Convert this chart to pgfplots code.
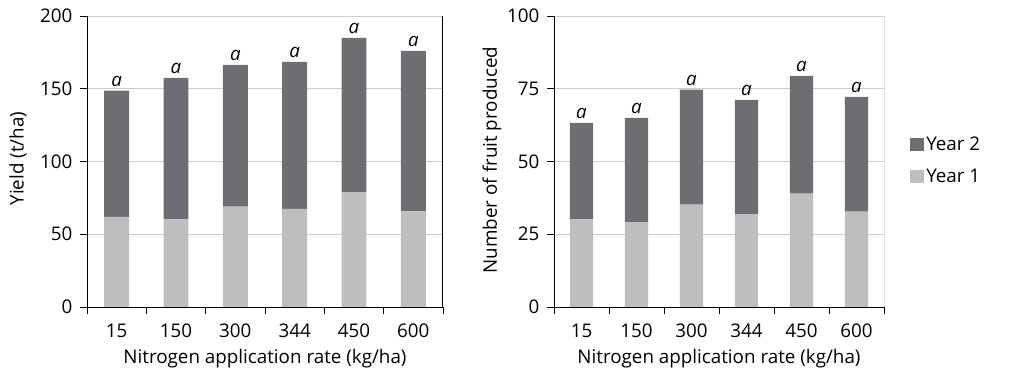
\documentclass[border=0pt]{standalone}
\usepackage{fontspec}
\setmainfont{Open Sans}
\usepackage{pgfplots}
\pgfplotsset{compat=1.18}
\definecolor{dark}{HTML}{6D6E71}
\definecolor{light}{HTML}{BCBEC0}
\definecolor{gridgray}{HTML}{CCCCCC}
\newcommand{\fs}{\fontsize{18.8bp}{22bp}\selectfont}
\pgfplotsset{
  mybar/.style={
    scale only axis,
    height=291bp,
    ybar stacked,
    ymin=0,
    xmin=-0.5, xmax=5.5,
    xtick={0,...,5},
    xticklabels={15,150,300,344,450,600},
    minor xtick={-0.5,0.5,...,5.5},
    tick align=outside,
    major tick length=7bp,
    minor tick length=7bp,
    major x tick style={draw=none},
    minor x tick style={black, line width=0.8bp},
    y tick style={black, line width=0.8bp},
    ymajorgrids,
    grid style={color=gridgray, line width=0.9bp},
    axis x line*=bottom,
    axis y line*=left,
    axis line style={line width=0.9bp},
    /pgf/number format/assume math mode=true,
    xlabel={Nitrogen application rate (kg/ha)},
    every axis plot/.append style={draw=none},
    bar width=0.42,
    yticklabel style={anchor=east, xshift=-4bp},
    xticklabel style={anchor=center, yshift=-17bp},
    xlabel style={at={(axis description cs:0.5,0)}, anchor=center, yshift=-52bp},
  },
  lab/.style={
    scale only axis, height=291bp, hide axis, ymin=0, xmin=-0.5, xmax=5.5,
    nodes near coords={a},
    every node near coord/.append style={font=\fs\itshape, anchor=south, inner sep=4bp, text=black},
  }
}
\begin{document}
\begin{tikzpicture}[font=\fs]
\useasboundingbox (0bp,0bp) rectangle (1036bp,371bp);
\begin{axis}[mybar,
  at={(87bp,64bp)}, anchor=south west,
  width=356bp,
  ymax=200, ytick={0,50,100,150,200},
  ylabel={Yield (t/ha)},
  ylabel style={at={(rel axis cs:-0.194,0.51)}, anchor=center},
]
\addplot[fill=light] coordinates {(0,62.0) (1,60.2) (2,68.9) (3,67.5) (4,78.7) (5,65.7)};
\addplot[fill=dark] coordinates {(0,86.7) (1,97.2) (2,97.5) (3,100.9) (4,106.2) (5,110.3)};
\draw[line width=1bp] (rel axis cs:1,0) -- (rel axis cs:1,1);
\end{axis}
\begin{axis}[lab, at={(87bp,64bp)}, anchor=south west, width=356bp, ymax=200]
\addplot[only marks, mark=none] coordinates {(0,148.7) (1,157.4) (2,166.4) (3,168.4) (4,184.9) (5,176.0)};
\end{axis}
\begin{axis}[mybar,
  at={(554bp,64bp)}, anchor=south west,
  width=330bp,
  ymax=100, ytick={0,25,50,75,100},
  ylabel={Number of fruit produced},
  ylabel style={at={(rel axis cs:-0.188,0.505)}, anchor=center},
  legend style={draw=none, fill=none, at={(1.079,0.505)}, anchor=west, inner sep=0pt, row sep=13bp,
    font=\fs},
  legend cell align=left,
  reverse legend,
  legend image code/.code={\fill[#1] (0bp,-6.5bp) rectangle (14bp,6.5bp);},
]
\addplot[fill=light] coordinates {(0,30.1) (1,29.1) (2,35.2) (3,31.8) (4,39.0) (5,32.8)};
\addlegendentry{Year 1}
\addplot[fill=dark] coordinates {(0,33.2) (1,35.9) (2,39.5) (3,39.4) (4,40.4) (5,39.4)};
\addlegendentry{Year 2}
\draw[line width=1bp] (rel axis cs:1,0) -- (rel axis cs:1,1);
\end{axis}
\begin{axis}[lab, at={(554bp,64bp)}, anchor=south west, width=330bp, ymax=100]
\addplot[only marks, mark=none] coordinates {(0,63.3) (1,65.0) (2,74.7) (3,71.2) (4,79.4) (5,72.2)};
\end{axis}
\end{tikzpicture}
\end{document}
